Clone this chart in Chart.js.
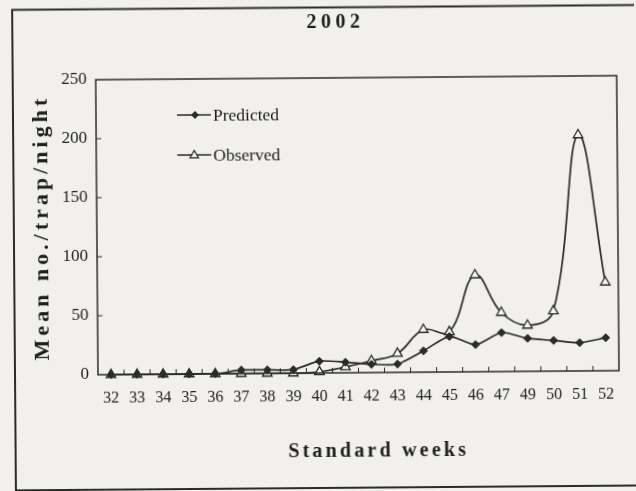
<!DOCTYPE html>
<html>
<head>
<meta charset="utf-8">
<script src="https://cdn.jsdelivr.net/npm/chart.js@4"></script>
<style>
  html, body { margin: 0; padding: 0; background: #f1f0ed; overflow: hidden; }
  canvas { display: block; transform: rotate(-0.45deg); }
</style>
</head>
<body>
<canvas id="c" width="636" height="491"></canvas>
<script>
// Weekly light-trap catches, 2002
const weeks = ['32','33','34','35','36','37','38','39','40','41','42','43','44','45','46','47','49','50','51','52'];
const predicted = [0, 0, 0, 0, 0, 3, 3, 3, 10, 9, 7, 7, 18, 30, 23, 33, 28, 26, 24, 28];
const observed  = [0, 0, 0, 0, 0, 0, 0, 0, 1, 5, 10, 16, 36, 34, 82, 50, 39, 51, 200, 75];
const yTicks = [0, 50, 100, 150, 200, 250];
const seriesNames = ['Predicted', 'Observed'];
const chartTitle = '2002';
const xTitle = 'Standard weeks';
const yTitle = 'Mean no./trap/night';

const ink = '#2b2b2b';
const paper = '#f1f0ed';
const serif = "'Liberation Serif', 'DejaVu Serif', 'Times New Roman', serif";

function spaced(ctx, text, x, y, spacing) {
  ctx.letterSpacing = spacing + 'px';
  ctx.fillText(text, x + spacing / 2, y);
  ctx.letterSpacing = '0px';
}

function diamond(ctx, x, y, r) {
  ctx.beginPath();
  ctx.moveTo(x, y - r); ctx.lineTo(x + r, y); ctx.lineTo(x, y + r); ctx.lineTo(x - r, y);
  ctx.closePath(); ctx.fill();
}
function triangle(ctx, x, y, r) {
  ctx.beginPath();
  ctx.moveTo(x, y - r); ctx.lineTo(x + r * 0.95, y + r * 0.65); ctx.lineTo(x - r * 0.95, y + r * 0.65);
  ctx.closePath(); ctx.fill(); ctx.stroke();
}

const decorations = {
  id: 'decorations',
  beforeDraw(chart) {
    const ctx = chart.ctx;
    ctx.save();
    ctx.fillStyle = paper;
    ctx.fillRect(0, 0, chart.width, chart.height);
    ctx.restore();
  },
  afterDraw(chart) {
    const ctx = chart.ctx;
    const a = chart.chartArea;
    const xs = chart.scales.x, ys = chart.scales.y;
    ctx.save();
    ctx.strokeStyle = ink;
    ctx.fillStyle = ink;

    // outer frame
    ctx.lineWidth = 2;
    ctx.strokeRect(14, 7.5, chart.width + 20, 480.5);

    // plot box
    ctx.lineWidth = 1.5;
    ctx.strokeRect(a.left, a.top, a.right - a.left, a.bottom - a.top);

    // inward tick marks between weeks
    ctx.lineWidth = 1;
    ctx.beginPath();
    for (let i = 0; i < weeks.length - 1; i++) {
      const xm = (xs.getPixelForValue(i) + xs.getPixelForValue(i + 1)) / 2;
      ctx.moveTo(xm, a.bottom); ctx.lineTo(xm, a.bottom - 5);
    }
    yTicks.slice(1, -1).forEach(v => {
      const yp = ys.getPixelForValue(v);
      ctx.moveTo(a.left, yp); ctx.lineTo(a.left + 5, yp);
    });
    ctx.stroke();

    // titles
    ctx.textAlign = 'center';
    ctx.textBaseline = 'middle';
    ctx.fillStyle = '#1e1e1e';
    ctx.font = "bold 20px " + serif;
    spaced(ctx, chartTitle, 335, 23, 4.5);
    ctx.font = "bold 20px " + serif;
    spaced(ctx, xTitle, (a.left + a.right) / 2 + 18, 452, 3.2);
    ctx.save();
    ctx.translate(42, (a.top + a.bottom) / 2 + 2);
    ctx.rotate(-Math.PI / 2);
    ctx.font = "bold 22px " + serif;
    spaced(ctx, yTitle, 0, 0, 4);
    ctx.restore();

    // legend
    const rows = [114, 154];
    ctx.font = "17.5px " + serif;
    ctx.textAlign = 'left';
    rows.forEach((ry, i) => {
      ctx.strokeStyle = ink;
      ctx.lineWidth = 1.5;
      ctx.beginPath(); ctx.moveTo(178, ry); ctx.lineTo(212, ry); ctx.stroke();
      ctx.fillStyle = ink;
      if (i === 0) {
        diamond(ctx, 196, ry, 4);
      } else {
        ctx.fillStyle = paper;
        ctx.lineWidth = 1.2;
        triangle(ctx, 195, ry, 4.5);
      }
      ctx.fillStyle = '#1e1e1e';
      ctx.fillText(seriesNames[i], 214, ry + 1);
    });
    ctx.restore();
  }
};

new Chart(document.getElementById('c'), {
  type: 'line',
  data: {
    labels: weeks,
    datasets: [
      {
        label: seriesNames[0],
        data: predicted,
        borderColor: ink,
        backgroundColor: ink,
        borderWidth: 1.7,
        pointStyle: 'rectRot',
        pointRadius: 4,
        pointBorderWidth: 1,
        pointBackgroundColor: ink,
        tension: 0.25,
        clip: false
      },
      {
        label: seriesNames[1],
        data: observed,
        borderColor: ink,
        backgroundColor: paper,
        borderWidth: 1.7,
        pointStyle: 'triangle',
        pointRadius: 5.5,
        pointBorderWidth: 1.3,
        pointBackgroundColor: '#f7f6f3',
        tension: 0.4,
        clip: false
      }
    ]
  },
  options: {
    responsive: false,
    animation: false,
    events: [],
    layout: { padding: { top: 78, right: 18, left: 0, bottom: 0 } },
    plugins: { legend: { display: false }, title: { display: false }, tooltip: { enabled: false } },
    scales: {
      x: {
        type: 'category',
        offset: true,
        grid: { display: false, drawTicks: false },
        border: { display: false },
        ticks: {
          color: '#222',
          font: { family: serif, size: 16 },
          padding: 14,
          maxRotation: 0,
          autoSkip: false
        },
        afterFit(s) { s.height = 118; }
      },
      y: {
        min: 0,
        max: 250,
        grid: { display: false, drawTicks: false },
        border: { display: false },
        afterBuildTicks(s) { s.ticks = yTicks.map(v => ({ value: v })); },
        ticks: {
          color: '#222',
          font: { family: serif, size: 17 },
          padding: 9
        },
        afterFit(s) { s.width = 97; }
      }
    }
  },
  plugins: [decorations]
});
</script>
</body>
</html>
